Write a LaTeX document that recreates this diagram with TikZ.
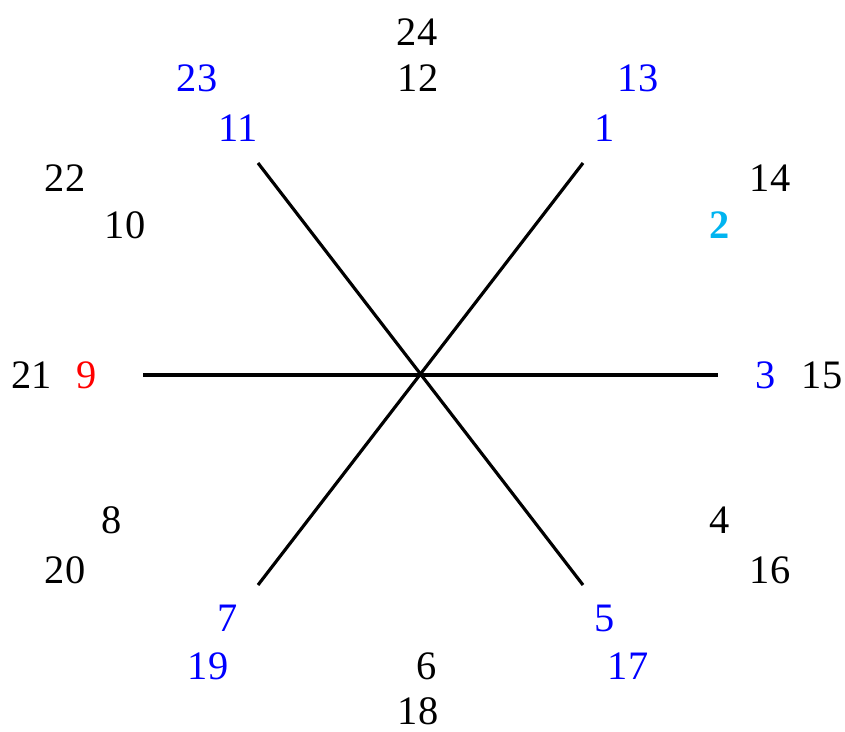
\documentclass[tikz,border=0pt]{standalone}
\usepackage{fontspec}
\setmainfont{Liberation Serif}
\usepackage{xcolor}
\usepackage{tikz}
\definecolor{hourblue}{RGB}{0,0,255}
\definecolor{hourcyan}{RGB}{0,180,240}
\definecolor{hourred}{RGB}{255,0,0}

\begin{document}
\begin{tikzpicture}[
    x=0.02cm, y=-0.02cm,
    num/.style={font=\fontsize{23}{27}\selectfont, inner sep=0pt},
    bnum/.style={num, text=hourblue},
    spoke/.style={line width=1.8pt, draw=black}
  ]
    \useasboundingbox (0,0) rectangle (845,731);
    % spokes
    \coordinate (centre) at (420,374);
    \coordinate (e) at (718,375);
    \coordinate (w) at (143,375);
    \coordinate (ne) at (583,163);
    \coordinate (sw) at (258,585);
    \coordinate (nw) at (258,163);
    \coordinate (se) at (583,585);
    \draw[spoke] (w) -- (e);
    \draw[spoke] (ne) -- (sw);
    \draw[spoke] (nw) -- (se);
    % inner ring
    \node[bnum] (h1) at (605,128) {1};
    \node[num, text=hourcyan, font=\fontsize{23}{27}\selectfont\bfseries] (h2) at (720,225) {2};
    \node[bnum] (h3) at (766,375) {3};
    \node[num] (h4) at (720,520) {4};
    \node[bnum] (h5) at (605,618) {5};
    \node[num] (h6) at (427,666) {6};
    \node[bnum] (h7) at (228,618) {7};
    \node[num] (h8) at (112,520) {8};
    \node[num, text=hourred] (h9) at (87,375) {9};
    \node[num] (h10) at (125,225) {10};
    \node[bnum] (h11) at (238,128) {11};
    \node[num] (h12) at (418,78) {12};
    % outer ring
    \node[bnum] (h13) at (638,78) {13};
    \node[num] (h14) at (770,178) {14};
    \node[num] (h15) at (822,375) {15};
    \node[num] (h16) at (770,570) {16};
    \node[bnum] (h17) at (628,666) {17};
    \node[num] (h18) at (418,711) {18};
    \node[bnum] (h19) at (208,666) {19};
    \node[num] (h20) at (65,570) {20};
    \node[num] (h21) at (32,375) {21};
    \node[num] (h22) at (65,178) {22};
    \node[bnum] (h23) at (197,78) {23};
    \node[num] (h24) at (417,32) {24};
  \end{tikzpicture}
\end{document}
